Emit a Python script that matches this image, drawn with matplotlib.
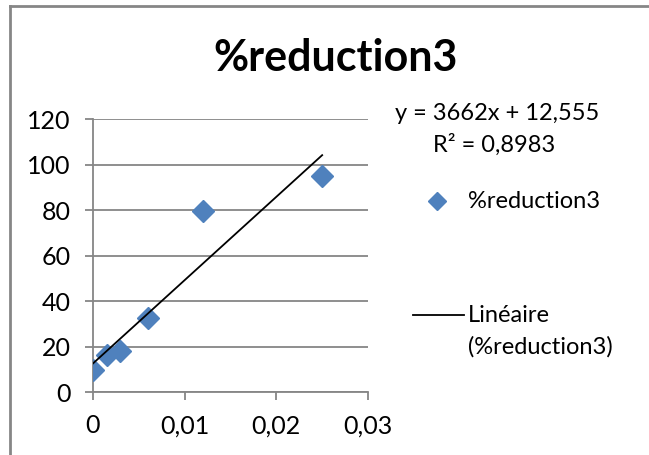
import matplotlib.pyplot as plt
import numpy as np

# Data
dose = [0, 0.0015, 0.003, 0.006, 0.012, 0.025]
reduction = [9.7, 16.3, 18.0, 32.5, 79.6, 95.0]
slope, intercept = 3662, 12.555
r2 = 0.8983
xticks = [0, 0.01, 0.02, 0.03]
xtick_labels = ["0", "0,01", "0,02", "0,03"]
yticks = [0, 20, 40, 60, 80, 100, 120]

plt.rcParams['font.family'] = ['Lato', 'DejaVu Sans']
blue = '#4F81BD'
grid_col = '#868686'

fig = plt.figure(figsize=(6.49, 4.55), dpi=100)
ax = fig.add_axes([93/649, 1-392/455, 275/649, 273/455])

ax.plot(dose, reduction, linestyle='none', marker='D', markersize=11.5,
        color=blue, label='%reduction3', zorder=3)

# linear trend line
xfit = np.array([0, max(dose)])
ax.plot(xfit, slope*xfit + intercept, color='black', linewidth=1.3,
        label='Linéaire\n(%reduction3)', zorder=4)

ax.set_xlim(0, 0.03)
ax.set_ylim(0, 120)
ax.set_xticks(xticks)
ax.set_xticklabels(xtick_labels)
ax.set_yticks(yticks)
ax.yaxis.grid(True, color=grid_col, linewidth=1.3)
ax.tick_params(axis='both', labelsize=18, color=grid_col, width=1.3,
               length=6, direction='out')
ax.tick_params(axis='x', pad=10)
ax.tick_params(axis='y', pad=10)
for s in ['top', 'right']:
    ax.spines[s].set_visible(False)
for s in ['left', 'bottom']:
    ax.spines[s].set_color(grid_col)
    ax.spines[s].set_linewidth(1.3)

fig.text(336/649, 1-58/455, '%reduction3', ha='center', va='center',
         fontsize=31, fontweight='bold')
fig.text(497/649, 1-113/455, 'y = 3662x + 12,555', ha='center', va='center',
         fontsize=17)
fig.text(494/649, 1-145/455, 'R² = 0,8983', ha='center', va='center',
         fontsize=17)

# legend
ax.plot([437/649], [1-201/455], transform=fig.transFigure, marker='D',
        markersize=9, color=blue, clip_on=False)
fig.text(468/649, 1-201/455, '%reduction3', va='center', fontsize=17)
fig.add_artist(plt.Line2D([413/649, 464/649], [1-315/455, 1-315/455],
                          color='black', linewidth=1.3))
fig.text(468/649, 1-315/455, 'Linéaire', va='center', fontsize=17)
fig.text(468/649, 1-347/455, '(%reduction3)', va='center', fontsize=17)

# chart frame
fig.add_artist(plt.Line2D([10/649, 10/649], [0, 1-6/455], color=grid_col, linewidth=2))
fig.add_artist(plt.Line2D([10/649, 1], [1-6/455, 1-6/455], color=grid_col, linewidth=2))

fig.savefig('out.png', dpi=100)
